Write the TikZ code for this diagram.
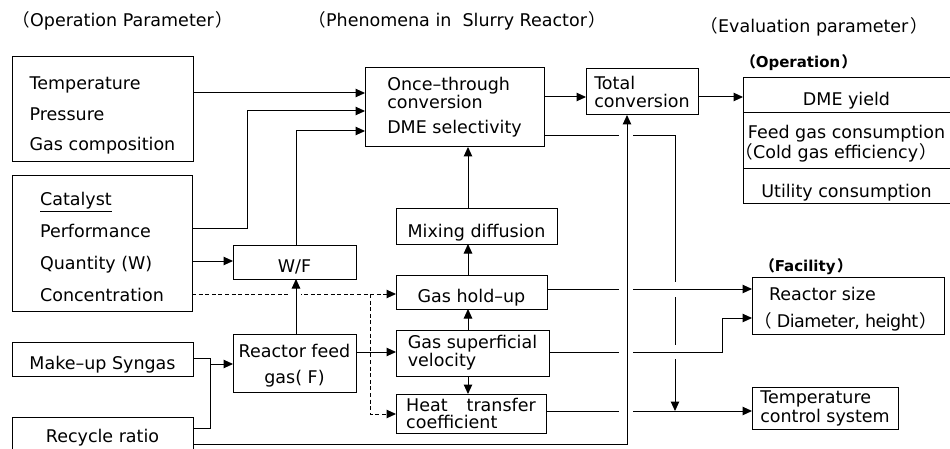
\documentclass[tikz,border=0pt]{standalone}
\usepackage{fontspec}
\setmainfont{DejaVu Sans}
\newfontfamily\cjkfont{Noto Sans CJK JP}
\newcommand\zlp{\kern-0.45em{\cjkfont （}}
\newcommand\zrp{\kern0.1em{\cjkfont ）}\kern-0.6em}
\newcommand\tup[1]{\rule{0pt}{#1}}
\usetikzlibrary{arrows.meta}
\begin{document}
\begin{tikzpicture}[x=1pt,y=-1pt,line width=1pt,
  box/.style={draw,line width=1pt,inner sep=0pt,outer sep=0pt,align=center,font=\fontsize{17.5}{21}\selectfont},
  lbox/.style={box,align=left},
  nobox/.style={box,draw=none},
  low/.style={text height=21pt,text depth=0pt},
  arr/.style={-{Triangle[length=9.5pt,width=8.5pt]}},
  dsh/.style={dash pattern=on 4pt off 2.6pt},
  hdr/.style={anchor=base west,inner sep=0pt,font=\fontsize{17.5}{21}\selectfont},
  subhdr/.style={anchor=base west,inner sep=0pt,font=\fontsize{15}{18}\selectfont\bfseries},
  gap/.style={fill=white,draw=none}]
\fill[white] (0,0) rectangle (950,449);
\useasboundingbox (0,0) rectangle (950,449);

% headers
\node[hdr] (h1) at (20,27) {\zlp Operation Parameter\zrp};
\node[hdr] (h2) at (316,27) {\zlp Phenomena in\ \ Slurry Reactor\zrp};
\node[hdr] (h3) at (708,33) {\zlp Evaluation parameter\zrp};
\node[subhdr] (hop) at (747,68) {\zlp Operation\zrp};
\node[subhdr] (hfa) at (766,271) {\zlp Facility\zrp};

% left column
\node[lbox,minimum width=181,minimum height=105,font=\fontsize{17.5}{30.5}\selectfont] (op) at (102.5,109.5) {\tup{25pt}Temperature\\Pressure\\Gas composition};
\node[lbox,minimum width=180,minimum height=135,font=\fontsize{17.5}{32}\selectfont] (cat) at (102,243.5) {\tup{21pt}\underline{Catalyst}\\Performance\\Quantity (W)\\Concentration};
\node[box,low,minimum width=181,minimum height=34] (mk) at (102.5,359) {Make–up Syngas};
\node[nobox,minimum width=181,minimum height=40] (rr) at (102.5,437.5) {Recycle ratio};
\draw (rr.south west) -- (rr.north west) -- (rr.north east) -- (rr.south east);

% second column
\node[box,low,minimum width=123,minimum height=34] (wf) at (294.5,262) {W/F};
\node[box,minimum width=123,minimum height=58,font=\fontsize{17.5}{26}\selectfont] (rf) at (294.5,363) {\tup{19pt}Reactor feed\\gas( F)};

% phenomena
\node[lbox,minimum width=179,minimum height=79,font=\fontsize{17.5}{18}\selectfont] (ot) at (454.5,107.5) {Once–through\\conversion\\[7pt]DME selectivity};
\node[box,low,minimum width=161,minimum height=35] (mx) at (476.5,226.5) {Mixing diffusion};
\node[box,low,minimum width=151,minimum height=34] (gh) at (471.5,292) {Gas hold–up};
\node[lbox,minimum width=153,minimum height=46,font=\fontsize{17.5}{16.5}\selectfont] (gs) at (472.5,353) {Gas superficial\\velocity};
\node[lbox,minimum width=150,minimum height=39,font=\fontsize{17.5}{17}\selectfont] (ht) at (471,413.5) {Heat\hspace{19pt}transfer\\coefficient};
\node[lbox,minimum width=112,minimum height=46,font=\fontsize{17.5}{17.5}\selectfont] (tc) at (642,92) {Total\\conversion};

% evaluation
\node[nobox,low,minimum width=207,minimum height=35] (ev1) at (846.5,95.5) {DME yield};
\node[nobox,align=left,minimum width=207,minimum height=56,font=\fontsize{17.5}{20}\selectfont] (ev2) at (846.5,141) {\tup{19pt}Feed gas consumption\\\kern-0.25em\zlp Cold gas efficiency\zrp};
\node[nobox,low,minimum width=207,minimum height=35] (ev3) at (846.5,186.5) {Utility consumption};
\draw ([xshift=15pt]ev1.north east) -- (ev1.north west) -- (ev3.south west) -- ([xshift=15pt]ev3.south east);
\draw (ev1.south west) -- ([xshift=15pt]ev1.south east);
\draw (ev2.south west) -- ([xshift=15pt]ev2.south east);
\node[lbox,minimum width=192,minimum height=57,font=\fontsize{17.5}{27}\selectfont] (rs) at (848,305.5) {\tup{21pt}Reactor size\\{\addfontfeature{LetterSpace=-3}\kern-0.4em\zlp\kern0.3em Diameter, height\zrp}};
\node[lbox,minimum width=146,minimum height=42,font=\fontsize{17.5}{19}\selectfont] (tcs) at (825,408) {Temperature\\control system};

% connectors: operation parameters
\draw[arr] (op.east |- 0,93) -- (ot.west |- 0,93);
\draw[arr] (cat.east |- 0,228) -| (247,111) -- (ot.west |- 0,111);
\draw[arr] (wf.north -| 296,0) |- (ot.west |- 0,131);
\draw[arr] (cat.east |- 0,261) -- (wf.west |- 0,261);
\coordinate (dj) at (370,294);
\draw[dsh,arr] (cat.east |- 0,294) -- (gh.west |- 0,294);
\draw[dsh,arr] (dj) |- (ht.west |- 0,414);
\fill[gap] (291,290) rectangle (301,298);
\draw[arr] (rf.north -| 296,0) -- (wf.south -| 296,0);
\draw[arr] (rf.east |- 0,352) -- (gs.west |- 0,352);
\coordinate (mj) at (210,358);
\draw (mk.east |- 0,358) -- (mj) |- (rr.east |- 0,428);
\draw[arr] (210,364) -- (rf.west |- 0,364);

% phenomena chain
\draw[arr] (mx.north -| 468,0) -- (ot.south -| 468,0);
\draw[arr] (gh.north -| 468,0) -- (mx.south -| 468,0);
\draw[arr] (gs.north -| 468,0) -- (gh.south -| 468,0);
\draw[arr] (gs.south -| 468,0) -- (ht.north -| 468,0);
\draw[arr] (ot.east |- 0,97) -- (tc.west |- 0,97);
\draw[arr] (tc.east |- 0,97) -- (ev1.west |- 0,97);

% to evaluation
\coordinate (tj) at (675,411);
\draw[arr] (ot.east |- 0,136) -| (tj);
\fill[gap] (670,282) rectangle (680,297);
\fill[gap] (670,345) rectangle (680,359);
\draw[arr] (gh.east |- 0,289) -- (rs.west |- 0,289);
\draw[arr] (gs.east |- 0,352) -| (722,318) -- (rs.west |- 0,318);
\draw[arr] (ht.east |- 0,411) -- (tcs.west |- 0,411);
\fill[gap] (619,133) rectangle (633,139);
\fill[gap] (619,286) rectangle (633,292);
\fill[gap] (619,349) rectangle (633,355);
\fill[gap] (619,408) rectangle (633,414);
\draw[arr] (rr.east |- 0,444) -| (tc.south -| 627,0);
\end{tikzpicture}
\end{document}
